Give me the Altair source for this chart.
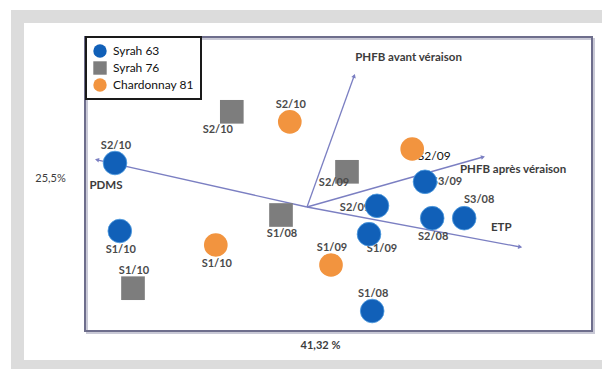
import altair as alt
import pandas as pd

# Scores of the individuals on the first two PCA dimensions
cultivar = ["Syrah 63"] * 8 + ["Syrah 76"] * 4 + ["Chardonnay 81"] * 4
sample = ["S2/10", "S1/10", "S2/09", "S1/09", "S3/09", "S2/08", "S3/08", "S1/08",
          "S2/10", "S2/09", "S1/08", "S1/10",
          "S2/10", "S2/09", "S1/10", "S1/09"]
dim1 = [-4.80, -4.68, 1.75, 1.55, 2.95, 3.13, 3.93, 1.63,
        -1.88, 1.00, -0.65, -4.35,
        -0.43, 2.63, -2.28, 0.60]
dim2 = [1.10, -0.60, 0.03, -0.68, 0.63, -0.28, -0.28, -2.60,
        2.38, 0.88, -0.20, -2.03,
        2.13, 1.45, -0.95, -1.45]
label_side = ["above", "below", "left", "below-right", "right", "below", "above-right", "above",
              "below-left", "lower-left", "below", "above",
              "above", "lower-right", "below", "above"]

# Variable loadings (arrows of the biplot)
variables = ["PHFB avant véraison", "PHFB après véraison", "ETP", "PDMS"]
var_dim1 = [1.18, 4.40, 5.33, -5.25]
var_dim2 = [3.28, 1.25, -1.00, 1.18]
var_side = ["top-start", "bottom-start", "top-back", "bottom-back"]

legend_order = ["Syrah 63", "Syrah 76", "Chardonnay 81"]
legend_colors = ["#1160b8", "#7d7d7d", "#f2943f"]
legend_shapes = ["circle", "square", "circle"]

scores = pd.DataFrame({"cultivar": cultivar, "sample": sample,
                       "dim1": dim1, "dim2": dim2, "side": label_side})
loadings = pd.DataFrame({"variable": variables, "dim1": var_dim1,
                         "dim2": var_dim2, "side": var_side,
                         "x0": [0.0] * 4, "y0": [0.0] * 4})

W, H = 507, 294
FONT = "Lato"
INK = "#3c3c3c"
ARROW = "#7b7fc2"

xs = alt.Scale(domain=[-5.55, 7.125], nice=False, zero=False)
ys = alt.Scale(domain=[-3.1, 4.25], nice=False, zero=False)

# axes carry only their titles (dimension inertia)
x_axis = alt.Axis(title="41,32 %", domain=False, ticks=False, labels=False,
                  grid=False, titleX=235, titleY=14, titleBaseline="middle",
                  titleFont=FONT, titleFontSize=11, titleFontWeight="bold",
                  titleColor=INK, zindex=2)
y_axis = alt.Axis(title="25,5%", domain=False, ticks=False, labels=False,
                  grid=False, titleAngle=0, titleX=-35, titleY=141,
                  titleAlign="center", titleBaseline="middle",
                  titleFont=FONT, titleFontSize=11, titleFontWeight="normal",
                  titleColor=INK, zindex=2)


def X(field):
    return alt.X(field, type="quantitative", scale=xs, axis=x_axis)


def Y(field):
    return alt.Y(field, type="quantitative", scale=ys, axis=y_axis)


one = pd.DataFrame({"k": [0]})
# page frame: grey band and white card behind the plot
frame = alt.Chart(one).mark_rect(color="#dcdcdc").encode(
    x=alt.value(-74), x2=alt.value(530), y=alt.value(-27), y2=alt.value(340))
card = alt.Chart(one).mark_rect(color="white").encode(
    x=alt.value(-61), x2=alt.value(530), y=alt.value(-14), y2=alt.value(323))
# shadowed border of the plotting box
shadow = alt.Chart(one).mark_rect(filled=False, stroke="#c9c9d6", strokeWidth=2).encode(
    x=alt.value(2), x2=alt.value(W + 2), y=alt.value(2), y2=alt.value(H + 2))
border = alt.Chart(one).mark_rect(filled=False, stroke="#6e6e8c", strokeWidth=2).encode(
    x=alt.value(0), x2=alt.value(W), y=alt.value(0), y2=alt.value(H))

vec = alt.Chart(loadings)
rules = vec.mark_rule(color=ARROW, strokeWidth=1.3).encode(
    x=X("x0"), y=Y("y0"), x2="dim1:Q", y2="dim2:Q")
heads = vec.transform_calculate(
    ang="(atan2(datum.dim1, datum.dim2) * 180 / PI + 360) % 360"
).mark_point(shape="triangle-up", filled=True, size=22, color=ARROW, opacity=1).encode(
    x=X("dim1"), y=Y("dim2"), angle=alt.Angle("ang:Q", scale=None))

var_text_style = {
    "top-start": dict(dx=1, dy=-18, align="left"),
    "bottom-start": dict(dx=-23, dy=13, align="left"),
    "top-back": dict(dx=-19, dy=-19, align="center"),
    "bottom-back": dict(dx=9, dy=26, align="center"),
}
var_labels = [
    vec.transform_filter(alt.datum.side == side).mark_text(
        font=FONT, fontSize=11.5, fontWeight="bold", color=INK, baseline="middle", **st
    ).encode(x=X("dim1"), y=Y("dim2"), text="variable:N")
    for side, st in var_text_style.items()
]

pts = alt.Chart(scores)
side_offsets = {
    "above": (1, -17), "below": (1, 19), "left": (-22, 2), "right": (22, 0),
    "above-right": (15, -18), "below-right": (13, 15), "below-left": (-14, 18),
    "lower-right": (22, 7), "lower-left": (-13, 11),
}


def sample_labels(sides):
    layers = []
    for side in sides:
        dx, dy = side_offsets[side]
        crisp = side == "lower-right"
        layers.append(
            pts.transform_filter(alt.datum.side == side).mark_text(
                font=FONT, fontSize=12 if crisp else 11,
                fontWeight="normal" if crisp else "bold",
                color="#111111" if crisp else "#4a4a4a", dx=dx, dy=dy, baseline="middle"
            ).encode(x=X("dim1"), y=Y("dim2"), text="sample:N"))
    return layers


# most sample names sit under the symbols; the one tucked against its square stays on top
under = sample_labels([s for s in side_offsets if s != "lower-left"])
over = sample_labels(["lower-left"])

legend = alt.Legend(title=None, orient="none", legendX=1, legendY=0)
points = pts.mark_point(filled=True, size=560, opacity=1, stroke="#4d9be0",
                        strokeWidth=0.8).encode(
    x=X("dim1"), y=Y("dim2"),
    color=alt.Color("cultivar:N", sort=legend_order,
                    scale=alt.Scale(domain=legend_order, range=legend_colors), legend=legend),
    shape=alt.Shape("cultivar:N", sort=legend_order,
                    scale=alt.Scale(domain=legend_order, range=legend_shapes), legend=legend),
    strokeOpacity=alt.condition(alt.datum.cultivar == "Syrah 63", alt.value(1), alt.value(0)),
)

chart = alt.layer(frame, card, shadow, border, rules, heads, *var_labels, *under,
                  points, *over).properties(
    width=W, height=H,
    padding={"left": 85, "top": 37, "right": 10, "bottom": 38},
    autosize=alt.AutoSizeParams(type="none"),
    background="white",
).configure_view(
    stroke=None
).configure_legend(
    strokeColor="#1a1a1a", strokeWidth=2, fillColor="white", padding=7,
    symbolSize=180, symbolStrokeWidth=0, labelFont=FONT, labelFontSize=12,
    labelColor="#111111", rowPadding=3, labelOffset=6,
)

chart.save("out.html", embed_options={"renderer": "svg", "actions": False})
